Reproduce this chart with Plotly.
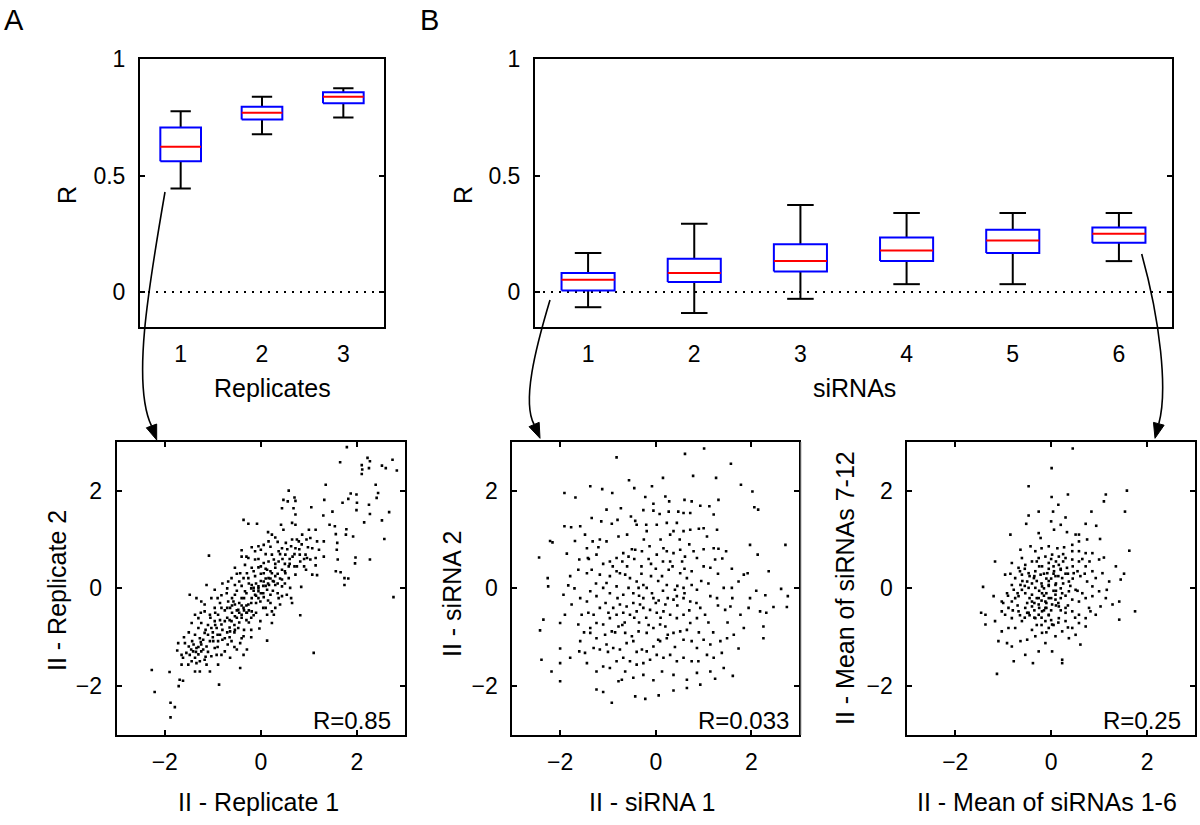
import plotly.graph_objects as go

W, H = 1200, 825
FONT = "Liberation Sans, Arial, Helvetica, sans-serif"

# ---------------- data: box plots (R values) ----------------
rep_pos = [1, 2, 3]
rep_q1 = [0.562, 0.741, 0.811]
rep_med = [0.624, 0.770, 0.839]
rep_q3 = [0.707, 0.796, 0.858]
rep_lo = [0.445, 0.678, 0.750]
rep_hi = [0.777, 0.839, 0.876]

sir_pos = [1, 2, 3, 4, 5, 6]
sir_q1 = [0.007, 0.043, 0.088, 0.133, 0.168, 0.212]
sir_med = [0.053, 0.082, 0.133, 0.179, 0.222, 0.251]
sir_q3 = [0.082, 0.143, 0.205, 0.234, 0.268, 0.277]
sir_lo = [-0.065, -0.090, -0.029, 0.034, 0.034, 0.133]
sir_hi = [0.168, 0.294, 0.374, 0.340, 0.340, 0.340]

tick_box_y = [0, 0.5, 1]
tick_box_y_text = ["0", "0.5", "1"]
tick_sc = [-2, 0, 2]

r_labels = ["R=0.85", "R=0.033", "R=0.25"]

# ---------------- data: scatter panels ----------------
rep_pts = [
(1.79,2.89),(1.65,2.58),(2.10,2.52),(2.11,2.43),(2.10,2.34),(2.22,2.67),(2.27,2.60),(2.25,2.46),(2.52,2.51),(2.60,2.46),
(2.74,2.63),(2.83,2.41),(1.35,2.12),(1.87,1.94),(1.99,1.92),(2.00,1.75),(1.82,1.83),(1.70,1.75),(1.99,1.60),(2.39,2.12),
(2.44,1.95),(2.41,1.85),(2.25,1.71),(2.27,1.52),(2.15,1.35),(2.52,1.39),(2.67,1.56),(1.32,1.81),(1.30,1.49),(1.49,1.57),
(0.58,2.00),(0.47,1.81),(0.56,1.78),(0.70,1.86),(0.72,1.79),(0.68,1.64),(0.44,1.64),(1.05,1.66),(0.72,1.51),(-0.36,1.40),
(-0.26,1.32),(-0.08,1.32),(0.42,1.30),(0.47,1.20),(0.65,1.34),(0.72,1.30),(1.14,1.20),(1.43,1.30),(1.54,1.27),(1.56,1.11),
(1.78,1.21),(1.77,1.10),(1.92,1.06),(2.57,1.01),(1.00,1.20),(1.03,1.03),(0.86,1.10),(0.75,1.00),(0.79,0.96),(0.98,0.84),
(1.07,0.82),(1.17,0.96),(1.31,0.96),(1.21,0.79),(1.59,0.93),(1.58,0.79),(1.60,0.59),(1.97,0.63),(1.96,0.51),(2.27,0.59),
(1.56,0.35),(1.66,0.33),(1.74,0.21),(1.82,0.20),(1.74,0.07),(2.76,-0.18),(0.82,-0.55),(1.10,-1.32),(0.15,1.15),(0.23,1.10),
(0.30,1.04),(0.16,0.96),(0.06,0.89),(-0.05,0.86),(-0.19,0.84),(-0.40,0.78),(-1.08,0.67),(-0.12,0.76),(0.00,0.79),(0.23,0.69),
(0.37,0.76),(0.44,0.82),(0.52,0.93),(0.63,0.86),(0.72,0.82),(0.51,0.69),(0.66,0.65),(0.81,0.69),(0.93,0.69),(0.96,0.62),
(1.03,0.59),(1.14,0.62),(1.31,0.65),(0.82,0.55),(0.90,0.45),(1.14,0.47),(0.94,0.38),(1.07,0.28),(1.17,0.27),(0.84,0.03),
(0.61,0.01),(0.63,-0.20),(0.65,-0.30),(0.37,-0.20),(0.40,-0.33),(0.23,-0.47),(0.27,-0.54),(0.13,-1.07),(-0.03,-0.82),(-0.01,-0.27),
(0.06,-0.18),(0.13,-0.03),(0.17,0.07),(0.27,0.14),(0.44,0.18),(0.58,0.21),(0.72,0.28),(0.75,0.45),(0.58,0.45),(0.44,0.38),
(0.30,0.42),(0.23,0.31),(0.16,0.21),(0.06,0.14),(-0.05,0.04),(-0.19,0.07),(-0.12,0.25),(-0.26,0.21),(-0.36,0.21),(-0.45,0.14),
(-0.54,0.07),(-0.61,0.21),(-0.68,0.14),(-0.19,0.42),(-0.05,0.43),(0.06,0.52),(0.16,0.55),(-0.12,0.59),(-0.33,0.48),(-0.29,0.31),
(-0.43,0.31),(-0.26,0.62),(-0.40,0.65),(-0.54,0.42),(-0.71,-0.10),(-0.82,-0.14),(-0.96,-0.03),(-1.03,-0.20),(-1.13,0.07),(-1.17,-0.33),
(-1.24,-0.27),(-1.30,-0.61),(-1.37,-0.54),(-1.48,-0.13),(-1.34,-0.20),(-0.96,-0.40),(-0.89,-0.54),(-0.82,-0.40),(-0.64,-0.40),(-0.54,-0.33),
(-0.47,-0.44),(-0.36,-0.40),(-0.26,-0.33),(-0.19,-0.20),(-0.12,-0.13),(-0.33,-0.06),(-0.40,-0.20),(-0.54,-0.13),(-0.57,-0.27),(-0.68,-0.27),
(-0.19,-0.47),(-0.29,-0.50),(-0.40,-0.54),(-0.54,-0.57),(-0.61,-0.67),(-0.75,-0.67),(-0.82,-0.74),(-0.92,-0.81),(-1.03,-0.81),(-1.10,-0.95),
(-1.17,-0.91),(-1.27,-1.02),(-1.37,-0.95),(-1.44,-0.71),(-1.43,-1.08),(-1.50,-1.19),(-1.58,-1.12),(-1.72,-1.12),(-1.74,-1.27),(-1.65,-1.36),
(-1.55,-1.32),(-1.41,-1.29),(-1.34,-1.22),(-1.24,-1.15),(-1.13,-1.19),(-0.99,-1.08),(-0.96,-1.22),(-0.89,-1.08),(-0.75,-1.02),(-0.64,-0.88),
(-0.54,-0.85),(-0.47,-0.81),(-0.36,-0.98),(-0.43,-1.12),(-0.50,-1.25),(-0.69,-1.15),(-0.75,-1.29),(-0.82,-1.36),(-0.92,-1.36),(-1.03,-1.39),
(-1.17,-1.46),(-1.27,-1.49),(-1.34,-1.53),(-1.44,-1.49),(-1.62,-1.42),(-1.65,-1.56),(-1.51,-1.56),(-1.37,-1.70),(-1.27,-1.70),(-1.06,-1.70),
(-0.89,-1.56),(-0.64,-1.42),(-0.43,-1.63),(-0.36,-1.36),(-0.29,-1.25),(-0.87,-1.97),(-1.69,-1.87),(-1.62,-1.89),(-1.90,-1.71),(-2.27,-1.67),
(-2.21,-2.12),(-1.88,-2.34),(-1.79,-2.43),(-1.88,-2.64),(-1.71,-2.00),(-0.40,-1.02),(-0.01,-0.67),(0.13,-0.54),(0.23,-0.71),(0.30,-0.40),
(0.44,-0.16),(0.54,-0.13),(0.06,0.31),(0.13,0.38),(0.37,0.55),(0.27,0.59),(0.51,0.31),(0.30,0.07),(0.44,0.04),(-0.05,-0.06),
(-0.15,0.01),(0.20,-0.13),(-0.96,-0.67),(-1.06,-0.54),(-1.17,-0.47),(-1.24,-0.71),(-1.30,-0.81),(-0.61,-1.08),(-0.85,-0.95),(-1.06,-1.08),
(-1.24,-1.29),(-1.37,-1.42),(-1.48,-1.36),(-1.13,-1.56),
(-0.35,-0.45),(-0.30,-0.50),(-0.25,-0.45),(-0.40,-0.35),(-0.45,-0.50),(-0.50,-0.60),(-0.60,-0.50),(-0.70,-0.60),(-0.65,-0.80),(-0.55,-0.75),
(-0.45,-0.70),(-0.30,-0.65),(-0.20,-0.60),(-0.10,-0.30),(-0.05,-0.20),(0.05,-0.10),(0.10,0.05),(0.00,0.15),(-0.10,0.10),(-0.20,0.00),
(-0.30,-0.10),(0.20,0.20),(0.30,0.25),(0.35,0.10),(0.10,0.40),(0.00,0.30),(-0.15,0.35),(0.25,-0.05),(0.15,-0.25),(-0.80,-0.85),
(-0.90,-0.95),(-1.00,-1.00),(-1.20,-1.25),(-1.30,-1.20),(-1.35,-1.30),(-1.25,-1.10),(-0.75,-0.45),(-0.85,-0.30),(-0.60,-0.20),(-0.50,-0.05),
(-0.40,0.05),(-0.70,0.00),(0.50,0.50),(0.60,0.60),(0.40,0.70),(0.70,0.45),(0.80,0.80),(0.90,0.60),(0.20,0.85),(0.35,0.95),
(-0.35,-0.85),(-0.20,-0.85),(-0.10,-0.50),(0.05,-0.40),(-1.10,-0.75),(-1.05,-0.60),(-0.95,-0.50),(-0.90,-1.20),(-1.15,-1.40),(-0.65,-1.00),
(-1.45,-1.25),(-1.40,-1.15),(-1.30,-1.35),(-1.20,-1.05),(-1.10,-1.30),(-1.00,-0.90),(-0.95,-0.75),(-0.85,-0.65),(-0.80,-1.05),(-0.70,-0.90),
(-0.70,-0.40),(-0.60,-0.35),(-0.55,-0.90),(-0.50,-0.45),(-0.45,-0.30),(-0.40,-0.60),(-0.35,-0.20),(-0.30,-0.35),(-0.25,-0.70),(-0.20,-0.30),
(-0.15,-0.05),(-0.10,-0.15),(-0.05,0.00),(0.00,-0.10),(0.05,0.05),(0.10,0.20),(0.15,0.10),(0.20,0.35),(0.25,0.15),(0.30,0.50),
(0.35,0.30),(0.40,0.20),(0.45,0.60),(0.50,0.35),(0.55,0.80),(0.60,0.50),(0.65,1.00),(0.70,0.70),(0.85,0.90),(0.95,1.00),
(-0.25,0.10),(-0.50,0.30),(-0.80,0.10),(-0.90,-0.20),(0.10,-0.40),(0.20,-0.30),(-0.05,0.60),(0.10,0.70),(-1.50,-0.90),(-1.60,-1.00),
(-1.25,-0.50),(-1.15,-0.85),(-0.65,-0.65),(-0.15,-0.55),(0.35,-0.10),(0.50,0.10),(0.00,0.45),(-0.30,0.65),(-0.55,-1.20),(-0.20,-1.00),
]

sir_pts = [
(-0.82,2.68),(0.61,2.75),(1.01,2.86),(1.57,2.55),(1.78,2.12),(1.26,2.26),(0.78,2.30),(0.15,2.26),(-0.56,2.21),(-0.08,2.09),
(-0.45,2.05),(-1.37,2.09),(-1.12,2.03),(-0.91,1.95),(-1.91,1.95),(-1.68,1.86),(0.20,1.88),(-0.22,1.87),(-0.05,1.73),(0.28,1.78),
(0.60,1.81),(0.75,1.78),(0.93,1.69),(1.31,1.81),(2.02,1.98),(2.06,1.66),(2.14,1.61),(-0.73,1.64),(-1.03,1.61),(-0.52,1.47),
(-0.43,1.38),(-0.26,1.60),(-0.05,1.59),(0.08,1.52),(0.27,1.57),(0.47,1.57),(0.58,1.54),(0.72,1.54),(1.12,1.68),(1.21,1.51),
(-1.34,1.44),(-1.14,1.37),(-0.80,1.40),(-0.92,1.32),(-1.91,1.27),(-1.77,1.25),(-1.58,1.27),(-1.48,1.10),(-1.69,0.97),(-2.21,0.97),
(-2.16,0.94),(-1.32,0.96),(-1.17,1.00),(-1.03,0.96),(-0.78,1.06),(-0.40,1.30),(-0.19,1.17),(0.02,1.30),(0.23,1.34),(0.37,1.17),
(0.44,1.34),(0.58,1.17),(0.72,1.20),(0.90,1.22),(1.00,1.23),(1.07,1.06),(1.21,0.82),(1.31,0.81),(1.47,0.76),(1.97,0.89),
(2.13,0.69),(2.71,0.89),(-2.44,0.63),(-1.86,0.71),(-1.60,0.59),(-1.42,0.62),(-1.24,0.69),(-1.20,0.84),(-1.44,0.82),(-0.96,0.55),
(-0.82,0.62),(-0.68,0.72),(-0.57,0.65),(-0.43,0.79),(-0.29,0.76),(-0.13,0.86),(0.02,0.69),(0.16,0.82),(0.23,0.76),(0.37,0.72),
(0.51,0.79),(0.61,0.65),(0.79,0.76),(0.86,0.62),(1.00,0.45),(1.14,0.42),(1.24,0.59),(1.39,0.61),(1.59,0.40),(1.84,0.28),
(1.92,0.31),(2.36,0.35),(1.73,0.14),(1.42,0.01),(1.59,0.01),(2.10,-0.05),(2.29,-0.14),(2.62,-0.01),(2.76,-0.16),(2.74,-0.38),
(2.46,-0.38),(2.31,-0.50),(2.18,-0.47),(1.94,-0.40),(1.77,-0.54),(1.56,-0.37),(1.45,-0.44),(1.28,-0.20),(1.14,-0.16),(0.93,-0.40),
(1.03,-0.54),(0.86,-0.61),(0.72,-0.27),(0.58,-0.20),(0.44,-0.16),(0.37,-0.23),(0.20,-0.33),(0.06,-0.25),(-0.05,-0.20),(-0.08,-0.10),
(-0.19,0.01),(-0.26,0.07),(-0.40,0.14),(-0.54,0.21),(-0.64,0.28),(-0.75,0.31),(-0.82,0.35),(-0.96,0.25),(-1.03,0.11),(-1.17,0.28),
(-1.34,0.38),(-1.44,0.31),(-1.62,0.38),(-1.79,0.25),(-1.83,0.06),(-1.93,-0.13),(-2.26,0.21),(-2.25,0.04),(-1.76,-0.33),(-1.90,-0.54),
(-2.00,-0.71),(-2.35,-0.64),(-2.42,-0.86),(-1.58,-0.20),(-1.37,-0.06),(-1.44,-0.27),(-1.24,-0.16),(-1.10,0.01),(-0.96,-0.10),(-0.82,0.04),
(-0.68,-0.13),(-0.57,0.01),(-0.47,-0.10),(-0.36,0.01),(-0.26,-0.20),(-0.33,-0.33),(-0.47,-0.30),(-0.61,-0.37),(-0.75,-0.33),(-0.89,-0.40),
(-0.99,-0.50),(-1.17,-0.40),(-1.30,-0.54),(-1.41,-0.50),(-1.55,-0.54),(-1.62,-0.74),(-1.37,-0.81),(-1.24,-0.71),(-1.10,-0.74),(-0.96,-0.61),
(-0.82,-0.54),(-0.68,-0.50),(-0.54,-0.54),(-0.40,-0.47),(-0.26,-0.40),(-0.12,-0.44),(0.02,-0.50),(0.16,-0.47),(0.30,-0.54),(0.44,-0.61),
(0.58,-0.54),(0.72,-0.71),(0.20,-0.78),(0.09,-0.74),(-0.05,-0.81),(-0.19,-0.91),(-0.36,-0.88),(-0.50,-0.98),(-0.64,-0.91),(-0.78,-0.78),
(-0.92,-0.88),(-1.06,-0.95),(-1.24,-1.02),(-1.37,-0.91),(-1.58,-1.08),(-2.00,-1.23),(-1.60,-1.29),(-1.48,-1.32),(-1.30,-1.22),(-1.17,-1.25),
(-1.03,-1.15),(-0.89,-1.22),(-0.75,-1.25),(-0.61,-1.12),(-0.47,-1.08),(-0.29,-1.25),(-0.19,-1.29),(-0.05,-1.19),(0.09,-1.08),(0.23,-1.02),
(0.37,-0.91),(0.51,-0.88),(0.58,-1.05),(0.75,-1.08),(0.86,-1.22),(1.00,-1.05),(1.14,-1.15),(1.35,-1.08),(1.49,-1.02),(1.63,-0.95),
(1.73,-1.23),(1.38,-1.32),(1.21,-1.42),(1.07,-1.36),(0.89,-1.49),(0.75,-1.49),(0.58,-1.42),(0.44,-1.49),(0.30,-1.36),(0.16,-1.42),
(0.02,-1.36),(-0.12,-1.46),(-0.26,-1.53),(-0.40,-1.56),(-0.54,-1.49),(-0.68,-1.42),(-0.82,-1.49),(-0.96,-1.63),(-1.10,-1.60),(-1.24,-1.70),
(-1.44,-1.53),(-1.79,-1.42),(-2.00,-1.53),(-2.39,-1.46),(-2.18,-1.70),(-2.00,-1.90),(-0.64,-1.70),(-0.47,-1.83),(-0.26,-1.77),(-0.05,-1.88),
(0.13,-1.70),(0.37,-1.77),(0.65,-1.87),(0.86,-1.73),(1.14,-1.70),(1.61,-1.79),(-1.24,-2.07),(-1.10,-2.12),(-0.92,-2.34),(-0.78,-1.90),
(-0.71,-1.87),(-0.43,-2.21),(-0.22,-2.26),(0.06,-2.19),(0.37,-2.09),(0.65,-2.04),(0.93,-1.97),(1.24,-1.85),(1.42,-1.63),(1.84,-0.81),
(2.25,-0.78),(2.25,-1.02),(1.97,-0.20),(1.28,1.20),(0.27,0.38),(0.13,0.25),(0.51,0.31),(0.65,0.21),(0.75,0.07),(0.86,-0.03),
(0.58,0.01),(0.40,-0.03),(0.23,0.07),
(0.00,0.40),(-0.10,0.50),(0.30,0.55),(0.45,0.05),(-0.30,0.45),(0.10,-0.60),(-0.35,-0.70),(0.25,-0.95),(-0.15,-0.75),(0.60,0.40),
(-0.60,0.45),(-0.80,-0.20),(0.85,-0.30),(0.65,-0.85),(-0.45,0.60),(0.10,1.00),(-0.25,1.00),(0.50,1.00),(0.05,-1.05),(-0.70,-0.75),
(-0.90,0.45),(-0.70,0.55),(-0.50,0.80),(-0.30,0.30),(-0.15,0.60),(0.05,0.15),(0.15,0.55),(0.35,0.45),(0.55,0.55),(0.75,0.35),
(0.95,0.15),(1.10,0.10),(1.30,-0.35),(1.10,-0.70),(0.90,-0.90),(0.70,-0.45),(0.45,-0.35),(0.25,-0.20),(0.00,-0.30),(-0.20,-0.60),
(-0.45,-0.60),(-0.65,-0.70),(-0.85,-0.90),(-1.05,-0.30),(-1.25,0.10),(-1.40,0.60),(-1.10,0.50),(-0.60,1.10),(-0.20,1.30),(0.30,1.10),
(0.70,0.90),(1.00,0.80),(1.30,0.30),(1.60,-0.20),(1.50,-0.70),(1.20,-0.90),(0.40,-1.20),(-0.40,-1.30),(-1.00,-1.30),(-1.50,-0.90),
(-1.70,0.00),(-0.10,0.25),(0.15,-0.05),(-0.35,-0.15),(0.60,-0.10),
]

mean_pts = [
(0.45,2.86),(0.01,2.46),(-0.47,2.09),(0.01,1.87),(0.35,1.92),(1.14,1.92),(1.58,2.00),(1.10,1.78),(0.15,1.71),(-0.26,1.57),
(0.04,1.57),(-0.47,1.49),(0.30,1.45),(0.84,1.57),(1.54,1.57),(-0.52,1.32),(0.00,1.37),(0.20,1.30),(0.72,1.32),(0.94,1.28),
(-0.85,1.10),(-0.26,1.13),(-0.22,1.03),(0.06,1.20),(0.33,1.15),(0.51,1.10),(0.58,0.96),(0.75,1.00),(1.02,1.01),(1.63,0.77),
(-0.43,0.86),(-0.64,0.79),(-0.20,0.82),(-0.05,0.86),(0.13,0.82),(0.27,0.84),(0.44,0.89),(0.58,0.76),(0.72,0.72),(0.86,0.72),
(1.00,0.59),(1.10,0.63),(-1.17,0.55),(-0.82,0.52),(-0.96,0.28),(-0.68,0.42),(-0.54,0.48),(-0.40,0.55),(-0.26,0.62),(-0.12,0.65),
(0.02,0.69),(0.16,0.65),(0.30,0.62),(0.44,0.59),(0.58,0.55),(0.72,0.45),(0.86,0.35),(0.93,0.21),(1.07,0.31),(1.35,0.45),
(1.52,0.30),(1.45,0.18),(1.21,0.14),(1.16,-0.03),(-1.42,0.03),(-1.20,-0.16),(-1.03,-0.27),(-0.92,-0.10),(-0.78,-0.03),(-0.64,0.07),
(-0.50,0.14),(-0.36,0.21),(-0.22,0.28),(-0.08,0.31),(0.06,0.35),(0.20,0.38),(0.33,0.42),(0.47,0.31),(0.61,0.25),(0.75,0.14),
(0.86,0.04),(1.00,-0.06),(1.14,-0.20),(1.28,-0.33),(1.42,-0.27),(1.42,-0.64),(1.75,-0.47),(1.03,-0.37),(0.93,-0.54),(0.82,-0.47),
(0.72,-0.61),(0.58,-0.54),(0.44,-0.47),(0.30,-0.40),(0.16,-0.37),(0.02,-0.33),(-0.12,-0.27),(-0.26,-0.20),(-0.40,-0.13),(-0.54,-0.10),
(-0.68,-0.16),(-0.82,-0.27),(-0.89,-0.40),(-0.96,-0.54),(-1.03,-0.47),(-1.17,-0.67),(-1.37,-0.74),(-1.46,-0.50),(-1.37,-0.54),(-0.82,-0.61),
(-0.68,-0.47),(-0.54,-0.40),(-0.40,-0.37),(-0.26,-0.54),(-0.12,-0.67),(0.02,-0.74),(0.16,-0.61),(0.30,-0.67),(0.44,-0.81),(0.58,-0.71),
(0.72,-0.78),(0.79,-0.40),(-0.05,-0.54),(-0.19,-0.47),(-0.33,-0.61),(-0.47,-0.50),(-0.61,-0.67),(-0.75,-0.81),(-0.89,-0.81),(-1.03,-0.88),
(-1.10,-1.08),(-0.92,-1.12),(-0.82,-1.19),(-0.64,-1.08),(-0.50,-1.05),(-0.33,-0.98),(-0.19,-0.91),(-0.05,-0.81),(0.09,-0.98),(0.23,-0.88),
(0.37,-1.02),(0.51,-0.95),(0.61,-1.15),(-0.26,-1.29),(-0.12,-1.12),(0.02,-1.29),(-0.54,-1.36),(-0.78,-1.49),(-0.38,-1.53),(0.23,-1.46),
(0.23,-1.53),(-1.13,-1.75),(-0.05,-0.20),(0.09,-0.13),(0.23,-0.10),(0.37,-0.06),(0.51,-0.03),(0.65,-0.10),(0.09,0.07),(-0.05,0.07),
(-0.19,0.04),(-0.33,0.01),(-0.47,0.01),(-0.61,-0.03),(-0.75,-0.20),(-0.19,-0.10),(0.37,0.14),(0.23,0.21),(0.09,0.25),(-0.05,0.52),
(-0.19,0.45),(-0.33,0.35),(-0.47,0.31),(-0.61,0.28),(-0.75,0.21),(-0.82,0.07),(0.44,-0.23),(0.58,-0.27),(0.72,-0.20),(0.86,-0.16),
(0.09,-0.23),(-0.26,-0.33),(-0.12,-0.40),(-0.40,-0.27),(0.16,0.48),(0.44,0.76),(0.58,1.10),(-0.33,0.76),(-0.61,0.62),
(-0.10,-0.30),(0.00,-0.45),(-0.20,-0.60),(-0.30,-0.20),(0.10,0.10),(0.20,0.00),(0.30,0.30),(-0.10,0.20),(-0.40,0.10),(-0.50,-0.30),
(-0.45,-0.55),(-0.15,-0.15),(0.05,-0.05),(0.15,-0.30),(0.30,-0.50),(-0.05,0.40),(0.25,0.55),(-0.25,0.45),(-0.60,0.15),(-0.70,-0.35),
(0.40,0.05),(0.55,0.35),(-0.35,-0.45),(0.00,-0.65),(-0.55,-0.60),(0.10,0.55),(-0.20,0.10),(0.35,-0.35),(-0.30,-0.75),(0.15,-0.70),
(-0.05,0.15),(0.05,0.30),(-0.35,0.25),(0.20,-0.20),(-0.15,-0.45),(0.45,0.45),(0.65,0.60),(-0.65,0.35),(-0.90,-0.15),(-0.80,-0.45),
(-0.15,0.00),(-0.10,-0.10),(0.00,-0.20),(0.10,-0.35),(-0.20,-0.25),(-0.25,-0.40),(-0.05,-0.55),(-0.35,-0.60),(-0.50,-0.50),(-0.45,-0.20),
(-0.55,0.05),(-0.30,0.15),(-0.15,0.30),(0.00,0.20),(0.15,0.25),(0.25,0.10),(0.35,0.30),(0.30,-0.15),(0.20,-0.45),(0.05,-0.75),
(-0.20,-0.75),(-0.40,-0.85),(-0.65,-0.55),(-0.70,-0.10),(-0.55,0.40),(-0.30,0.55),(0.00,0.60),(0.25,0.70),(0.45,0.20),(0.55,-0.05),
(0.50,-0.60),(0.35,-0.80),(-0.10,-0.90),(-0.85,0.30),(-1.00,-0.30),(0.70,0.30),(0.80,0.55),(-0.25,-0.05),(0.10,-0.05),(-0.05,0.05),
(-0.35,-0.30),(-0.10,-0.40),(0.05,0.45),(-0.45,0.25),(0.20,0.40),
]


# ---------------- helpers for layout (pixel -> paper) ----------------
def dx(a, b):
    return [a / W, b / W]


def dy(top, bottom):
    return [1 - bottom / H, 1 - top / H]


def px(x, y):
    return x / W, 1 - y / H


def box_traces(pos, q1, med, q3, lo, hi, xa, ya):
    bw, cw = 0.25, 0.125
    wx, wy, bx, by, mx, my = [], [], [], [], [], []
    for p, a, m, b, l, h in zip(pos, q1, med, q3, lo, hi):
        wx += [p, p, None, p, p, None, p - cw, p + cw, None, p - cw, p + cw, None]
        wy += [b, h, None, l, a, None, h, h, None, l, l, None]
        bx += [p - bw, p + bw, p + bw, p - bw, p - bw, None]
        by += [a, a, b, b, a, None]
        mx += [p - bw, p + bw, None]
        my += [m, m, None]
    return [
        go.Scatter(x=wx, y=wy, mode="lines", line=dict(color="black", width=2),
                   xaxis=xa, yaxis=ya, hoverinfo="skip", showlegend=False),
        go.Scatter(x=bx, y=by, mode="lines", line=dict(color="#0000ff", width=2),
                   xaxis=xa, yaxis=ya, hoverinfo="skip", showlegend=False),
        go.Scatter(x=mx, y=my, mode="lines", line=dict(color="#ff0000", width=2),
                   xaxis=xa, yaxis=ya, hoverinfo="skip", showlegend=False),
    ]


fig = go.Figure()

# zero reference lines
fig.add_trace(go.Scatter(x=[0.5, 3.5], y=[0, 0], mode="lines",
                         line=dict(color="black", width=2, dash="2px,6px"),
                         xaxis="x", yaxis="y", hoverinfo="skip", showlegend=False))
fig.add_trace(go.Scatter(x=[0.5, 6.5], y=[0, 0], mode="lines",
                         line=dict(color="black", width=2, dash="2px,6px"),
                         xaxis="x2", yaxis="y2", hoverinfo="skip", showlegend=False))

for t in box_traces(rep_pos, rep_q1, rep_med, rep_q3, rep_lo, rep_hi, "x", "y"):
    fig.add_trace(t)
for t in box_traces(sir_pos, sir_q1, sir_med, sir_q3, sir_lo, sir_hi, "x2", "y2"):
    fig.add_trace(t)

for pts, xa, ya in [(rep_pts, "x3", "y3"), (sir_pts, "x4", "y4"), (mean_pts, "x5", "y5")]:
    fig.add_trace(go.Scatter(x=[p[0] for p in pts], y=[p[1] for p in pts], mode="markers",
                             marker=dict(symbol="square", size=2.6, color="black", line=dict(width=0)),
                             xaxis=xa, yaxis=ya, hoverinfo="skip", showlegend=False))

tickfont = dict(family=FONT, size=23, color="black")
common = dict(showline=True, linecolor="black", linewidth=2, showgrid=False, zeroline=False,
              tickfont=tickfont, ticklen=5, tickwidth=1.5, tickcolor="black", fixedrange=True,
              automargin=False)

layout_axes = {}
# Panel A top
layout_axes["xaxis"] = dict(common, domain=dx(140, 384), range=[0.5, 3.5], tickvals=rep_pos,
                            ticks="", mirror=True, anchor="y", ticklabelstandoff=5)
layout_axes["yaxis"] = dict(common, domain=dy(59.3, 327), range=[-0.15, 1], tickvals=tick_box_y,
                            ticktext=tick_box_y_text, ticks="inside", mirror="ticks", anchor="x",
                            ticklabelstandoff=8)
# Panel B top
layout_axes["xaxis2"] = dict(common, domain=dx(535, 1172), range=[0.5, 6.5], tickvals=sir_pos,
                             ticks="", mirror=True, anchor="y2", ticklabelstandoff=5)
layout_axes["yaxis2"] = dict(common, domain=dy(59.3, 327), range=[-0.15, 1], tickvals=tick_box_y,
                             ticktext=tick_box_y_text, ticks="inside", mirror="ticks", anchor="x2",
                             ticklabelstandoff=8)
# scatter panels
sc_dom = [dx(116.7, 405), dx(512.3, 799.3), dx(907.3, 1195)]
for i, d in enumerate(sc_dom):
    n = i + 3
    layout_axes["xaxis%d" % n] = dict(common, domain=d, range=[-3, 3], tickvals=tick_sc,
                                      ticks="inside", mirror="ticks", anchor="y%d" % n,
                                      ticklabelstandoff=5)
    layout_axes["yaxis%d" % n] = dict(common, domain=dy(441.7, 735), range=[-3, 3], tickvals=tick_sc,
                                      ticks="inside", mirror="ticks", anchor="x%d" % n,
                                      ticklabelstandoff=8)

annotations = []


def add_text(text, x, y, size=25, angle=0, xanchor="center", yanchor="middle"):
    xp, yp = px(x, y)
    annotations.append(dict(text=text, x=xp, y=yp, xref="paper", yref="paper", showarrow=False,
                            textangle=angle, xanchor=xanchor, yanchor=yanchor,
                            font=dict(family=FONT, size=size, color="black")))


add_text("A", 14, 20, size=29)
add_text("B", 429, 20, size=29)
add_text("R", 67, 195, angle=-90)
add_text("R", 463, 195, angle=-90)
add_text("Replicates", 272, 388)
add_text("siRNAs", 854, 388)
add_text("II - Replicate 1", 258, 802)
add_text("II - siRNA 1", 652, 802)
add_text("II - Mean of siRNAs 1-6", 1047, 802)
add_text("II - Replicate 2", 57, 591, angle=-90)
add_text("II - siRNA 2", 452, 594, angle=-90)
add_text("II - Mean of siRNAs 7-12", 845, 588, angle=-90)
add_text(r_labels[0], 393, 720, size=24, xanchor="right")
add_text(r_labels[1], 791, 720, size=24, xanchor="right")
add_text(r_labels[2], 1183, 720, size=24, xanchor="right")

shapes = []


def curve_arrow(p0, p1, p2, p3, tip, head_len=15, half_w=5.5):
    a = px(*p0); b = px(*p1); c = px(*p2); d = px(*p3)
    path = "M %f,%f C %f,%f %f,%f %f,%f" % (a[0], a[1], b[0], b[1], c[0], c[1], d[0], d[1])
    shapes.append(dict(type="path", path=path, xref="paper", yref="paper",
                       line=dict(color="black", width=1.6)))
    vx, vy = tip[0] - p3[0], tip[1] - p3[1]
    L = (vx ** 2 + vy ** 2) ** 0.5
    ux, uy = vx / L, vy / L
    bxp, byp = tip[0] - head_len * ux, tip[1] - head_len * uy
    l1 = px(bxp - half_w * uy, byp + half_w * ux)
    l2 = px(bxp + half_w * uy, byp - half_w * ux)
    t = px(*tip)
    tri = "M %f,%f L %f,%f L %f,%f Z" % (t[0], t[1], l1[0], l1[1], l2[0], l2[1])
    shapes.append(dict(type="path", path=tri, xref="paper", yref="paper",
                       fillcolor="black", line=dict(color="black", width=1)))


curve_arrow((165, 192), (148, 290), (132, 385), (151.5, 425.9), (156.7, 440))
curve_arrow((550, 300), (535, 350), (522, 402), (534.1, 424.5), (540, 438.3))
curve_arrow((1141.7, 254), (1160, 320), (1168, 390), (1158.8, 423.8), (1155, 438.3))

# faint separator line seen left of the third scatter panel
a0 = px(801, 442); a1 = px(801, 735)
shapes.append(dict(type="line", x0=a0[0], y0=a0[1], x1=a1[0], y1=a1[1], xref="paper", yref="paper",
                   line=dict(color="#b0b0b0", width=1)))

fig.update_layout(width=W, height=H, margin=dict(l=0, r=0, t=0, b=0, autoexpand=False),
                  paper_bgcolor="white", plot_bgcolor="white", showlegend=False,
                  annotations=annotations, shapes=shapes, **layout_axes)

fig.write_html("out.html", config={"displayModeBar": False},
               post_script="document.body.style.margin='0';document.body.style.overflow='hidden';")
